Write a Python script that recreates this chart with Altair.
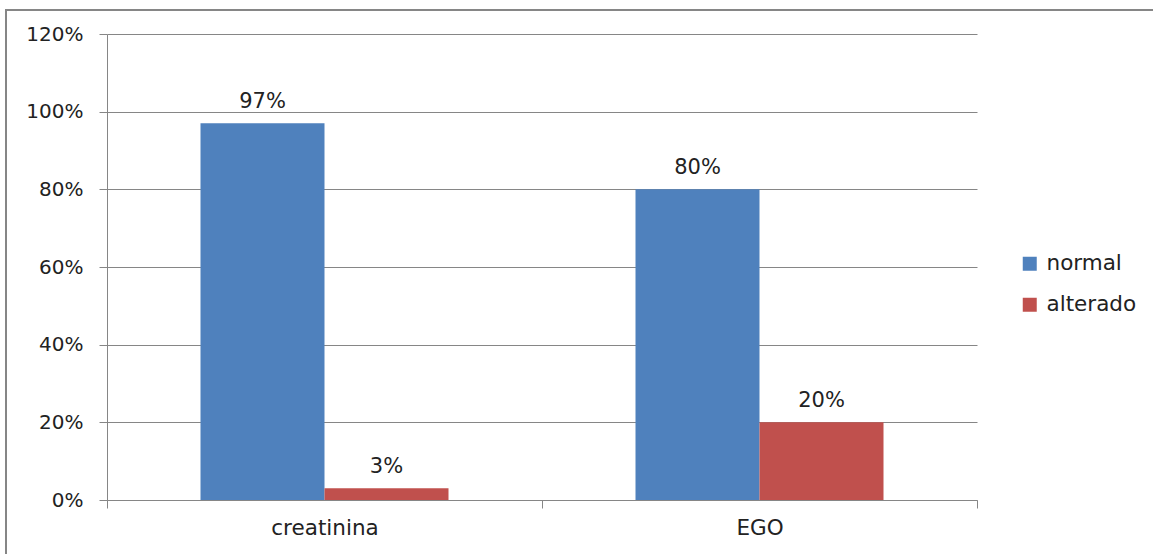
import altair as alt
import pandas as pd

# Chart values
categories = ["creatinina", "EGO"]
series = ["normal", "alterado"]
normal = [0.97, 0.80]
alterado = [0.03, 0.20]
colors = ["#4F81BD", "#C0504D"]
y_ticks = [0, 0.2, 0.4, 0.6, 0.8, 1.0, 1.2]

rows = []
for i, cat in enumerate(categories):
    rows.append({"categoria": cat, "serie": "normal", "valor": normal[i]})
    rows.append({"categoria": cat, "serie": "alterado", "valor": alterado[i]})
df = pd.DataFrame(rows)

W, H = 870, 466
FONT = "DejaVu Sans"
GRAY = "#868686"
TEXT = "#222222"

x_enc = alt.X(
    "categoria:N",
    sort=categories,
    scale=alt.Scale(paddingInner=0, paddingOuter=0),
    axis=alt.Axis(
        title=None,
        tickBand="extent",
        tickSize=8,
        tickColor=GRAY,
        domainColor=GRAY,
        labelAngle=0,
        labelFontSize=21.5,
        labelFont=FONT,
        labelColor=TEXT,
        labelPadding=9,
        grid=False,
    ),
)
xo_enc = alt.XOffset(
    "serie:N", sort=series, scale=alt.Scale(paddingInner=0, paddingOuter=0.754)
)
y_enc = alt.Y(
    "valor:Q",
    scale=alt.Scale(domain=[0, 1.2], nice=False),
    axis=alt.Axis(
        title=None,
        values=y_ticks,
        format=".0%",
        tickSize=8,
        tickColor=GRAY,
        domainColor=GRAY,
        gridColor=GRAY,
        labelFontSize=20,
        labelFont=FONT,
        labelColor=TEXT,
        labelPadding=16,
    ),
)

bars = alt.Chart(df).mark_bar(size=124).encode(
    x=x_enc,
    xOffset=xo_enc,
    y=y_enc,
    color=alt.Color(
        "serie:N",
        sort=series,
        scale=alt.Scale(domain=series, range=colors),
        legend=alt.Legend(
            title=None,
            orient="none",
            legendX=912,
            legendY=219,
            symbolType="square",
            symbolSize=196,
            symbolStrokeWidth=0,
            labelFontSize=21.5,
            labelFont=FONT,
            labelColor=TEXT,
            labelOffset=6,
            rowPadding=18,
        ),
    ),
)

labels = alt.Chart(df).mark_text(
    baseline="alphabetic", dy=-15, fontSize=21, font=FONT, color=TEXT
).encode(
    x=alt.X("categoria:N", sort=categories),
    xOffset=alt.XOffset("serie:N", sort=series),
    y=alt.Y("valor:Q"),
    text=alt.Text("valor:Q", format=".0%"),
)

# Outer chart frame (top and left edges)
one = alt.Data(values=[{}])
frame_top = alt.Chart(one).mark_rule(color=GRAY, strokeWidth=2).encode(
    x=alt.value(-102), x2=alt.value(1046), y=alt.value(-24)
)
frame_left = alt.Chart(one).mark_rule(color=GRAY, strokeWidth=2).encode(
    x=alt.value(-101), y=alt.value(-25), y2=alt.value(520)
)

chart = (
    alt.layer(frame_top, frame_left, bars, labels)
    .properties(
        width=W,
        height=H,
        padding={"left": 107, "top": 34, "right": 176, "bottom": 54},
        autosize=alt.AutoSizeParams(type="none"),
        background="white",
    )
    .configure_view(strokeWidth=0)
)

chart.save("out.html", embed_options={"renderer": "svg", "actions": False})
